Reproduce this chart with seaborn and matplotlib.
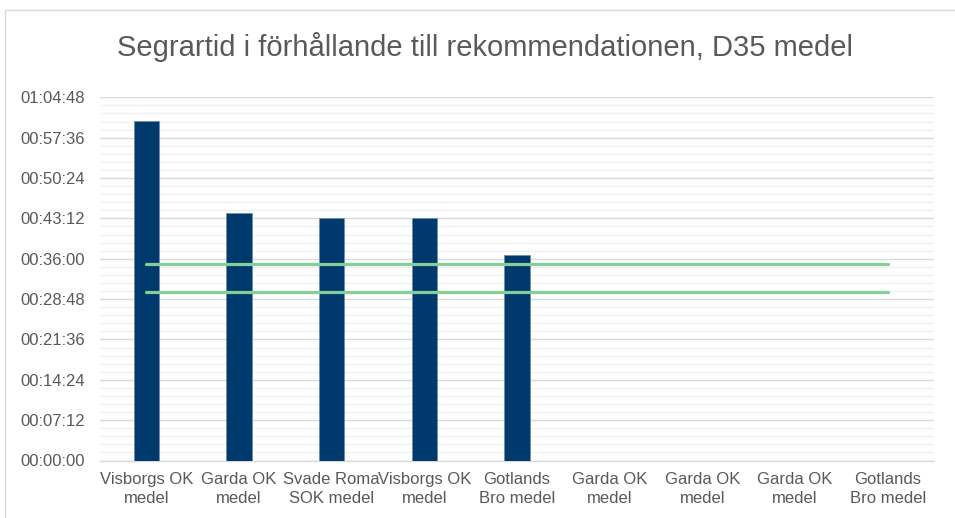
import matplotlib
matplotlib.use("Agg")
import matplotlib.pyplot as plt
from matplotlib.ticker import MultipleLocator, FuncFormatter
from matplotlib.patches import Rectangle
import numpy as np
import pandas as pd
import seaborn as sns

# data
clubs = ["Visborgs OK\nmedel", "Garda OK\nmedel", "Svade Roma\nSOK medel", "Visborgs OK\nmedel",
         "Gotlands\nBro medel", "Garda OK\nmedel", "Garda OK\nmedel", "Garda OK\nmedel",
         "Gotlands\nBro medel"]
winner_time = ["01:00:35", "00:44:10", "00:43:16", "00:43:16", "00:36:37", None, None, None, None]
rec_high = ["00:35:00"] * 9
rec_low = ["00:30:00"] * 9


def to_sec(vals):
    return [pd.to_timedelta(v).total_seconds() if v else np.nan for v in vals]


df = pd.DataFrame({"pos": range(len(clubs)), "club": clubs,
                   "tid": to_sec(winner_time), "hi": to_sec(rec_high), "lo": to_sec(rec_low)})

sns.set_style("white")
plt.rcParams["font.family"] = ["Liberation Sans", "DejaVu Sans"]
grey = "#595959"

fig = plt.figure(figsize=(9.55, 5.18), dpi=100)
ax = fig.add_axes([100 / 955, 57.5 / 518, 834 / 955, 363.2 / 518])

sns.barplot(data=df, x="pos", y="tid", order=list(range(9)), color="#00396B",
            width=0.27, edgecolor="#6f8fb0", linewidth=0.6, saturation=1, ax=ax, zorder=3)
sns.lineplot(data=df, x="pos", y="hi", color="#82CF99", linewidth=2.3, ax=ax, zorder=4)
sns.lineplot(data=df, x="pos", y="lo", color="#82CF99", linewidth=2.3, ax=ax, zorder=4)

ax.set_ylim(0, 3888)
ax.set_xlim(-0.5, 8.5)
ax.yaxis.set_major_locator(MultipleLocator(432))
ax.yaxis.set_minor_locator(MultipleLocator(86.4))


def hms(s, pos=None):
    s = int(round(s))
    return f"{s // 3600:02d}:{(s % 3600) // 60:02d}:{s % 60:02d}"


ax.yaxis.set_major_formatter(FuncFormatter(hms))
ax.grid(axis="y", which="major", color="#d9d9d9", linewidth=1.0, zorder=0)
ax.grid(axis="y", which="minor", color="#f0f0f0", linewidth=1.0, zorder=0)
ax.set_axisbelow(True)

ax.set_xticks(range(9))
ax.set_xticklabels(clubs)
ax.set_xticks(np.arange(-0.5, 9, 1), minor=True)
ax.tick_params(axis="x", which="major", length=0, pad=8, labelsize=12, labelcolor=grey)
ax.tick_params(axis="x", which="minor", length=5, color="#d9d9d9", width=1)
ax.tick_params(axis="y", which="both", length=0, pad=11, labelsize=12, labelcolor=grey)
for lbl in ax.get_xticklabels():
    lbl.set_linespacing(1.35)

for side in ["left", "top", "right"]:
    ax.spines[side].set_visible(False)
ax.spines["bottom"].set_color("#d9d9d9")
ax.spines["bottom"].set_linewidth(1.0)
ax.set_xlabel("")
ax.set_ylabel("")

fig.text(485 / 955, 1 - 47 / 518, "Segrartid i förhållande till rekommendationen, D35 medel",
         ha="center", va="center", fontsize=21, color=grey)

fig.patches.append(Rectangle((5 / 955, -0.1), 2, 1 - 10 / 518 + 0.1, transform=fig.transFigure,
                             fill=False, edgecolor="#d9d9d9", linewidth=1))

fig.savefig("out.png", dpi=100)
